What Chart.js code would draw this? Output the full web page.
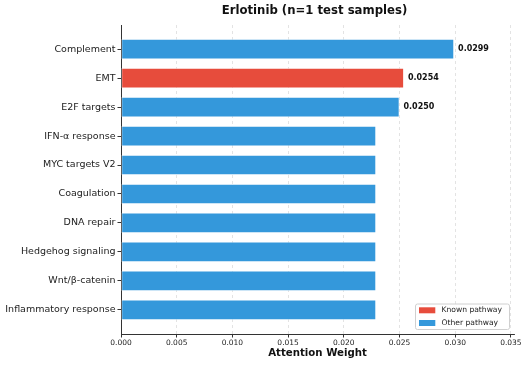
<!DOCTYPE html>
<html>
<head>
<meta charset="utf-8">
<title>Erlotinib attention</title>
<script src="https://cdn.jsdelivr.net/npm/chart.js@4.4.0/dist/chart.umd.min.js"></script>
<style>
  html, body { margin: 0; padding: 0; background: #fff; }
  #chart { display: block; }
</style>
</head>
<body>
<canvas id="chart" width="526" height="365"></canvas>
<script>
// data
var pathways = ["Complement", "EMT", "E2F targets", "IFN-\u03b1 response", "MYC targets V2",
  "Coagulation", "DNA repair", "Hedgehog signaling", "Wnt/\u03b2-catenin", "Inflammatory response"];
var weights = [0.0299, 0.0254, 0.0250, 0.0229, 0.0229, 0.0229, 0.0229, 0.0229, 0.0229, 0.0229];
var knownPathway = [false, true, false, false, false, false, false, false, false, false];
var annotated = [true, true, true, false, false, false, false, false, false, false];
var xTicks = [0, 0.005, 0.010, 0.015, 0.020, 0.025, 0.030, 0.035];
var xMax = 0.03528;

var KNOWN = "#e74c3c", OTHER = "#3498db";
var FONT = "'DejaVu Sans', sans-serif";

var points = weights.map(function (w, i) { return { x: w, y: i }; });

// title, value labels and legend drawn on the canvas
var extras = {
  id: "extras",
  afterDatasetsDraw: function (chart) {
    var ctx = chart.ctx, area = chart.chartArea;
    ctx.save();
    ctx.fillStyle = "#111";
    ctx.font = "bold 11.7px " + FONT;
    ctx.textAlign = "center";
    ctx.textBaseline = "middle";
    ctx.fillText("Erlotinib (n=1 test samples)", 314.5, 11);

    var meta = chart.getDatasetMeta(0);
    ctx.font = "bold 8px " + FONT;
    ctx.textAlign = "left";
    meta.data.forEach(function (bar, i) {
      if (!annotated[i]) return;
      ctx.fillText(weights[i].toFixed(4), bar.x + 4, bar.y);
    });

    // legend box, lower right
    var bx = 415.5, by = 304, bw = 94, bh = 25.5;
    ctx.beginPath();
    ctx.roundRect(bx, by, bw, bh, 2);
    ctx.fillStyle = "rgba(255,255,255,0.85)";
    ctx.fill();
    ctx.strokeStyle = "#d0d0d0";
    ctx.lineWidth = 1;
    ctx.stroke();
    var items = [["Known pathway", KNOWN], ["Other pathway", OTHER]];
    ctx.font = "7.6px " + FONT;
    items.forEach(function (it, k) {
      var cy = 310.3 + k * 12.7;
      ctx.fillStyle = it[1];
      ctx.fillRect(419, cy - 3, 16.3, 6);
      ctx.fillStyle = "#222";
      ctx.fillText(it[0], 441.5, cy);
    });
    ctx.restore();
  }
};

new Chart(document.getElementById("chart"), {
  type: "bar",
  data: {
    datasets: [{
      data: points,
      backgroundColor: knownPathway.map(function (k) { return k ? KNOWN : OTHER; }),
      borderColor: "rgba(255,255,255,0.6)",
      borderWidth: 0.8,
      borderSkipped: false,
      barPercentage: 0.7,
      categoryPercentage: 1.0
    }]
  },
  options: {
    indexAxis: "y",
    responsive: false,
    animation: false,
    devicePixelRatio: 1,
    layout: { padding: { top: 25, right: 12, left: 0, bottom: 0 } },
    plugins: {
      legend: { display: false },
      tooltip: { enabled: false },
      title: { display: false }
    },
    scales: {
      x: {
        type: "linear",
        position: "bottom",
        min: 0,
        max: xMax,
        afterFit: function (s) { s.height = 31; },
        afterBuildTicks: function (s) { s.ticks = xTicks.map(function (v) { return { value: v }; }); },
        ticks: {
          color: "#222",
          font: { family: FONT, size: 7.5 },
          padding: 1,
          maxRotation: 0,
          callback: function (v) { return v.toFixed(3); }
        },
        grid: {
          color: "#dcdcdc",
          lineWidth: 0.8,
          tickColor: "#333",
          tickLength: 3.5,
          tickWidth: 1
        },
        border: { display: true, color: "#333", width: 1, dash: [3, 3] },
        title: {
          display: true,
          text: "Attention Weight",
          color: "#111",
          font: { family: FONT, size: 10.2, weight: "bold" },
          padding: { top: 0, bottom: 6 }
        }
      },
      y: {
        type: "linear",
        position: "left",
        reverse: true,
        offset: false,
        min: -0.835,
        max: 9.835,
        afterFit: function (s) { s.width = 121; },
        afterBuildTicks: function (s) { s.ticks = pathways.map(function (p, i) { return { value: i }; }); },
        ticks: {
          color: "#222",
          font: { family: FONT, size: 9.5 },
          padding: 2,
          autoSkip: false,
          callback: function (v) { return pathways[v]; }
        },
        grid: {
          offset: false,
          drawOnChartArea: false,
          tickColor: "#333",
          tickLength: 3.5,
          tickWidth: 1
        },
        border: { display: true, color: "#333", width: 1 }
      }
    }
  },
  plugins: [extras]
});
</script>
</body>
</html>
